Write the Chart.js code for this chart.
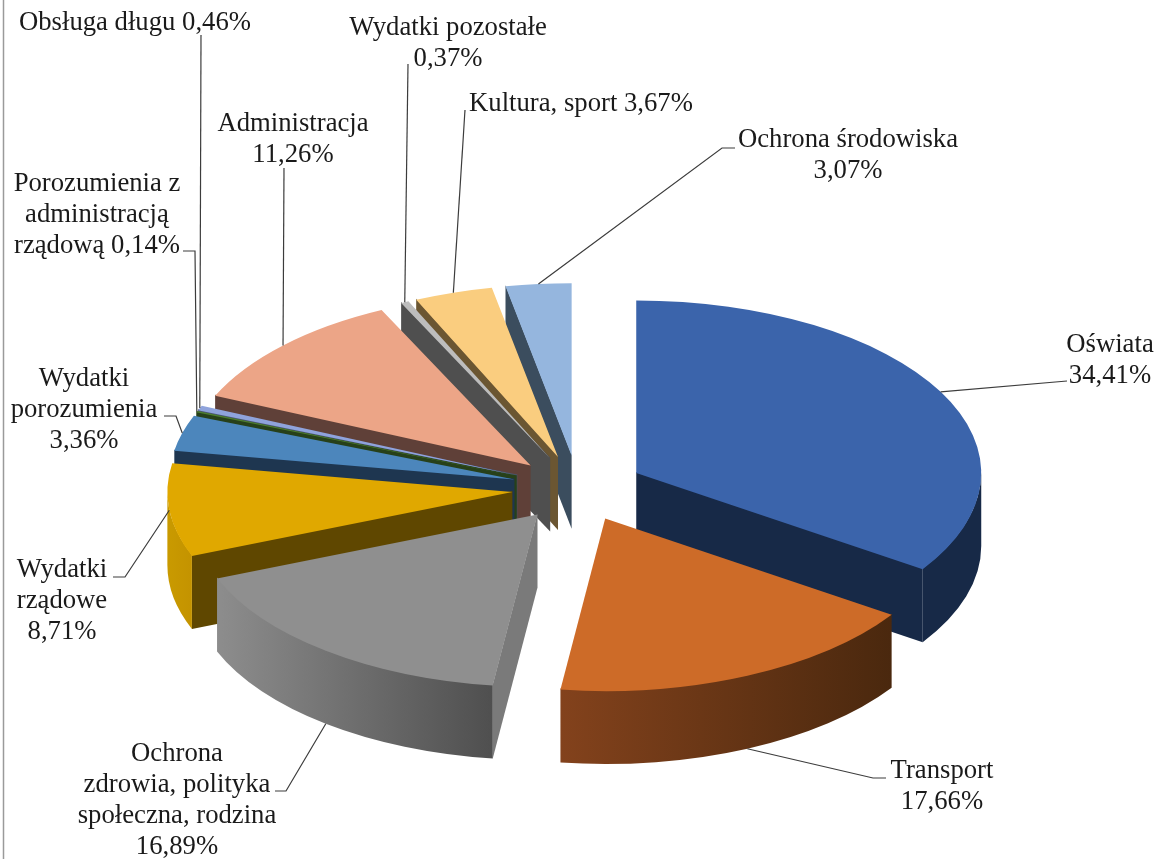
<!DOCTYPE html>
<html>
<head>
<meta charset="utf-8">
<title>Wydatki</title>
<script src="https://cdn.jsdelivr.net/npm/chart.js@4"></script>
<style>
    body { margin: 0; background: #fff; }
    canvas { display: block; }
</style>
</head>
<body>
<canvas id="chart" width="1158" height="859"></canvas>
<script>
const categories = ['Oświata', 'Transport', 'Ochrona zdrowia, polityka społeczna, rodzina', 'Wydatki rządowe',
    'Wydatki porozumienia', 'Porozumienia z administracją rządową', 'Obsługa długu', 'Administracja',
    'Wydatki pozostałe', 'Kultura, sport', 'Ochrona środowiska'];
const shares = [34.41, 17.66, 16.89, 8.71, 3.36, 0.14, 0.46, 11.26, 0.37, 3.67, 3.07];
const labelLines = [
    ['Oświata', '34,41%'],
    ['Transport', '17,66%'],
    ['Ochrona', 'zdrowia, polityka', 'społeczna, rodzina', '16,89%'],
    ['Wydatki', 'rządowe', '8,71%'],
    ['Wydatki', 'porozumienia', '3,36%'],
    ['Porozumienia z', 'administracją', 'rządową 0,14%'],
    ['Obsługa długu 0,46%'],
    ['Administracja', '11,26%'],
    ['Wydatki pozostałe', '0,37%'],
    ['Kultura, sport 3,67%'],
    ['Ochrona środowiska', '3,07%']
];

// colours: top of the slice, cut face, outer wall left and right
const topColors = ['#3b64ab', '#cd6b28', '#8f8f8f', '#e0a800', '#4c86bc', '#4d7f2f', '#8fa3dc', '#eca587', '#bdbdbd', '#facd7f', '#95b6de'];
const faceColors = ['#172947', '#5a2e10', '#7a7a7a', '#5f4700', '#1e3650', '#27401a', '#4a5570', '#5f4038', '#4f4f4f', '#6b5632', '#3b4d5e'];
const wallLeft = ['#172947', '#83421c', '#8d8d8d', '#c99a00', '#2f5a80', '#27401a', '#4a5570', '#5f4038', '#4f4f4f', '#6b5632', '#3b4d5e'];
const wallRight = ['#172947', '#4a280e', '#4f4f4f', '#c49300', '#1e3650', '#27401a', '#4a5570', '#5f4038', '#4f4f4f', '#6b5632', '#3b4d5e'];

const radius = 345;
const explode = 66;
const tilt = 0.5;
const depth = 73;
const lap = 1; // walls run this far under the top so no white seam shows

// label centre x, centre y of the first line, leader bends, how far down the wall the leader ends
const labelPos = [
    {x: 1110, y: 343, bends: [[1067, 381]], drop: 0},
    {x: 942, y: 769, bends: [[886, 778], [873, 778]], drop: 1},
    {x: 177, y: 752, bends: [[275, 791], [286, 791]], drop: 1},
    {x: 62, y: 568, bends: [[113, 577], [125, 577]], drop: 0},
    {x: 84, y: 377, bends: [[164, 416], [176, 416]], drop: 0},
    {x: 97, y: 182, bends: [[183, 251], [195, 251]], drop: 0},
    {x: 135, y: 21, bends: [[201, 35]], drop: 0},
    {x: 293, y: 122, bends: [[284, 168]], drop: 0},
    {x: 448, y: 26, bends: [[408, 64]], drop: 0},
    {x: 581, y: 102, bends: [[465, 110]], drop: 0},
    {x: 848, y: 138, bends: [[735, 148], [722, 148]], drop: 0}
];

function apexOf(arc) {
    const mid = (arc.startAngle + arc.endAngle) / 2;
    return {x: arc.x + Math.cos(mid) * explode, y: arc.y + Math.sin(mid) * explode * tilt};
}

// slices are pulled out here, the arc offset option narrows thin ones
const drawArc = Chart.ArcElement.prototype.draw;
Chart.ArcElement.prototype.draw = function (ctx) {
    const mid = (this.startAngle + this.endAngle) / 2;
    ctx.save();
    ctx.translate(Math.cos(mid) * explode, Math.sin(mid) * explode);
    drawArc.call(this, ctx);
    ctx.restore();
};

function drawWall(ctx, arc, i) {
    const apex = apexOf(arc);
    const rim = a => ({x: apex.x + Math.cos(a) * radius, y: apex.y + Math.sin(a) * radius * tilt});
    const face = a => {
        const p = rim(a);
        ctx.fillStyle = faceColors[i];
        ctx.beginPath();
        ctx.moveTo(apex.x, apex.y - lap);
        ctx.lineTo(p.x, p.y - lap);
        ctx.lineTo(p.x, p.y + depth);
        ctx.lineTo(apex.x, apex.y + depth);
        ctx.closePath();
        ctx.fill();
    };
    if (Math.cos(arc.startAngle) < 0) face(arc.startAngle);
    if (Math.cos(arc.endAngle) > 0) face(arc.endAngle);

    // only the front half of the outer wall can be seen
    const from = Math.max(arc.startAngle, 0);
    const to = Math.min(arc.endAngle, Math.PI);
    if (to > from) {
        const grad = ctx.createLinearGradient(rim(to).x, 0, rim(from).x, 0);
        grad.addColorStop(0, wallLeft[i]);
        grad.addColorStop(1, wallRight[i]);
        ctx.fillStyle = grad;
        ctx.beginPath();
        ctx.ellipse(apex.x, apex.y - lap, radius, radius * tilt, 0, from, to);
        ctx.ellipse(apex.x, apex.y + depth, radius, radius * tilt, 0, to, from, true);
        ctx.closePath();
        ctx.fill();
    }
}

const pie3d = {
    id: 'pie3d',
    beforeDatasetsDraw(chart) {
        const arcs = chart.getDatasetMeta(0).data;
        const order = arcs.map((arc, i) => i).sort((a, b) => apexOf(arcs[a]).y - apexOf(arcs[b]).y);
        order.forEach(i => drawWall(chart.ctx, arcs[i], i));
    },
    beforeDatasetDraw(chart, args) {
        const ctx = chart.ctx;
        const cy = args.meta.data[0].y;
        ctx.save();
        ctx.translate(0, cy);
        ctx.scale(1, tilt);
        ctx.translate(0, -cy);
    },
    afterDatasetDraw(chart) {
        chart.ctx.restore();
    },
    afterDraw(chart) {
        const ctx = chart.ctx;
        const arcs = chart.getDatasetMeta(0).data;

        // frame line on the left
        ctx.strokeStyle = '#9a9a9a';
        ctx.lineWidth = 1.5;
        ctx.beginPath();
        ctx.moveTo(3.5, 0);
        ctx.lineTo(3.5, chart.height);
        ctx.stroke();

        ctx.strokeStyle = '#3c3c3c';
        ctx.lineWidth = 1.2;
        arcs.forEach((arc, i) => {
            const pos = labelPos[i];
            const apex = apexOf(arc);
            const mid = (arc.startAngle + arc.endAngle) / 2;
            ctx.beginPath();
            pos.bends.forEach((p, n) => n ? ctx.lineTo(p[0], p[1]) : ctx.moveTo(p[0], p[1]));
            ctx.lineTo(apex.x + Math.cos(mid) * radius, apex.y + Math.sin(mid) * radius * tilt + depth * pos.drop);
            ctx.stroke();
        });

        ctx.fillStyle = '#1a1a1a';
        ctx.font = '26.7px "Liberation Serif"';
        ctx.textAlign = 'center';
        ctx.textBaseline = 'middle';
        labelLines.forEach((lines, i) => {
            lines.forEach((line, n) => ctx.fillText(line, labelPos[i].x, labelPos[i].y + 1.5 + n * 31));
        });
    }
};

new Chart(document.getElementById('chart').getContext('2d'), {
    type: 'pie',
    data: {
        labels: categories,
        datasets: [{
            data: shares,
            backgroundColor: topColors,
            borderWidth: 0,
            radius: radius,
            clip: false
        }]
    },
    options: {
        responsive: false,
        animation: false,
        events: [],
        radius: radius,
        layout: {padding: {top: 118, right: 2}},
        plugins: {legend: {display: false}, tooltip: {enabled: false}}
    },
    plugins: [pie3d]
});
</script>
</body>
</html>
